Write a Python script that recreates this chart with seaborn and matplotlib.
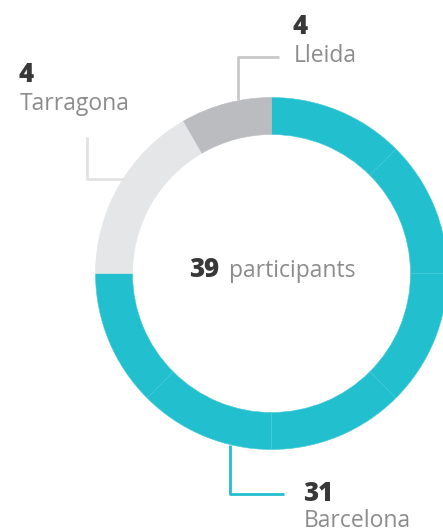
import matplotlib
matplotlib.use("Agg")
import seaborn as sns
from matplotlib import pyplot as plt

# data
regions = ["Barcelona", "Tarragona", "Lleida"]
participants = [31, 4, 4]
arc_deg = [270, 60, 30]        # arc each region takes in the source ring
bcn_pieces = 6                 # Barcelona arc is split in equal pieces
total_label = "participants"

TEAL = "#22bfcf"
colors = {"Barcelona": TEAL, "Tarragona": "#e5e6e8", "Lleida": "#bbbcbf"}
line_colors = {"Barcelona": TEAL, "Tarragona": "#e2e2e2", "Lleida": "#c9c9c9"}
DARK = "#383838"
GREY = "#8c8c8c"

W, H = 443, 528
sns.set_theme(style="white")
plt.rcParams["font.family"] = ["Open Sans", "DejaVu Sans"]

fig = plt.figure(figsize=(W / 100, H / 100), dpi=100)
ax = fig.add_axes([0, 0, 1, 1])


def Y(y):
    # pixel row -> data y
    return H - y


cx, cy, r_out, ring = 271.5, Y(273.5), 176, 37

sizes, cols = [], []
for reg, deg in zip(regions, arc_deg):
    if reg == "Barcelona":
        sizes += [deg / bcn_pieces] * bcn_pieces
        cols += [colors[reg]] * bcn_pieces
    else:
        sizes.append(deg)
        cols.append(colors[reg])

wedges, _ = ax.pie(sizes, colors=cols, startangle=90, counterclock=False,
                   center=(cx, cy), radius=r_out, frame=True,
                   wedgeprops=dict(width=ring, edgecolor="#45cbd8", linewidth=0.4))
for w, c in zip(wedges, cols):
    if c != TEAL:
        w.set_edgecolor(c)
ax.set_xlim(0, W)
ax.set_ylim(0, H)
ax.set_aspect("equal")
ax.axis("off")

# leader lines (elbow) per region
leaders = {
    "Lleida": [(238, 100), (238, 57), (279, 57)],
    "Tarragona": [(87, 137), (87, 179), (125, 179)],
    "Barcelona": [(230, 445), (230, 494), (284, 494)],
}
for reg, pts in leaders.items():
    ax.plot([p[0] for p in pts], [Y(p[1]) for p in pts],
            color=line_colors[reg], lw=2, solid_capstyle="butt", zorder=1)

# labels: number + region name
label_pos = {
    "Lleida": (293, 34, 62),
    "Tarragona": (19, 82, 110),
    "Barcelona": (303, 501, 527),
}
for reg, val in zip(regions, participants):
    x, yn, yl = label_pos[reg]
    ax.text(x, Y(yn), str(val), fontsize=18.5, fontweight="heavy", color=DARK,
            ha="left", va="baseline")
    ax.text(x + 1, Y(yl), reg, fontsize=16.5, color=GREY,
            ha="left", va="baseline")

ax.text(189, Y(277), str(sum(participants)), fontsize=18.5, fontweight="heavy",
        color=DARK, ha="left", va="baseline")
ax.text(229, Y(277), total_label, fontsize=16.5, color=GREY,
        ha="left", va="baseline")

fig.savefig("out.png", dpi=100)
